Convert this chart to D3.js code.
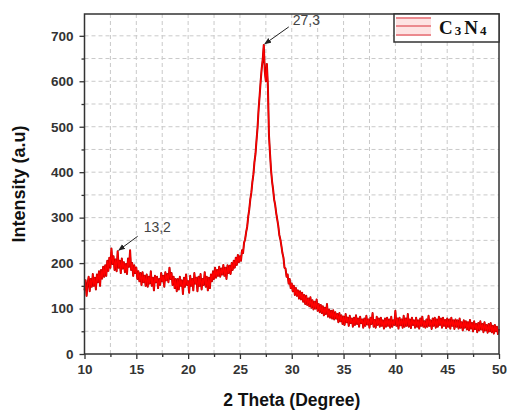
<!DOCTYPE html>
<html>
<head>
<meta charset="utf-8">
<script src="https://cdn.jsdelivr.net/npm/d3@7"></script>
<style>
  html, body { margin: 0; padding: 0; background: #fff; }
  #chart { width: 507px; height: 410px; }
  text { font-family: Arial, "Liberation Sans", sans-serif; }
</style>
</head>
<body>
<div id="chart"></div>
<script>
// XRD pattern of C3N4, intensity vs 2 theta
const THETA_START = 10;
const THETA_STEP = 0.1;

// intensity, one row per degree (10.0 .. 50.0)
const intensity = [
  140, 162, 128, 155, 170, 138, 165, 148, 176, 150,
  168, 142, 175, 158, 182, 150, 185, 166, 192, 170,
  195, 172, 205, 183, 212, 190, 232, 198, 215, 185,
  208, 182, 226, 190, 205, 178, 210, 188, 202, 180,
  198, 176, 210, 192, 228, 185, 200, 172, 195, 178,
  190, 165, 182, 160, 178, 152, 180, 158, 172, 150,
  175, 148, 170, 155, 182, 150, 168, 140, 172, 158,
  170, 145, 165, 152, 178, 160, 172, 148, 180, 162,
  176, 158, 190, 165, 178, 152, 170, 145, 165, 138,
  165, 142, 170, 150, 162, 132, 168, 148, 175, 152,
  160, 135, 172, 150, 165, 140, 178, 155, 168, 138,
  170, 150, 176, 142, 165, 152, 180, 148, 170, 140,
  168, 145, 175, 160, 182, 165, 190, 168, 185, 172,
  192, 170, 188, 175, 196, 172, 190, 165, 195, 178,
  194, 176, 200, 185, 205, 190, 212, 196, 218, 202,
  215, 205, 228, 222, 245, 252, 268, 280, 302, 318,
  340, 355, 378, 395, 422, 440, 470, 498, 538, 568,
  600, 628, 648, 680, 622, 600, 638, 588, 482, 442,
  405, 380, 362, 340, 328, 310, 296, 282, 262, 252,
  238, 222, 212, 190, 188, 170, 175, 155, 165, 145,
  155, 138, 150, 130, 145, 128, 140, 122, 138, 120,
  135, 115, 130, 110, 128, 108, 122, 105, 125, 102,
  118, 98, 115, 100, 120, 95, 110, 92, 108, 90,
  105, 85, 102, 88, 110, 82, 98, 80, 95, 78,
  96, 76, 92, 78, 88, 70, 90, 72, 85, 66,
  82, 64, 88, 70, 80, 62, 84, 68, 78, 60,
  80, 64, 85, 66, 78, 60, 82, 68, 76, 58,
  78, 62, 84, 65, 76, 58, 80, 66, 90, 60,
  75, 58, 82, 64, 78, 60, 80, 62, 74, 56,
  78, 60, 80, 62, 76, 58, 82, 60, 74, 64,
  95, 62, 78, 56, 80, 63, 76, 58, 84, 60,
  78, 62, 88, 60, 76, 57, 80, 64, 74, 58,
  80, 60, 74, 56, 78, 62, 82, 60, 72, 58,
  76, 60, 84, 62, 74, 55, 78, 62, 80, 58,
  76, 60, 82, 64, 78, 58, 80, 62, 75, 57,
  78, 60, 76, 56, 80, 62, 74, 55, 76, 60,
  74, 56, 78, 58, 70, 52, 74, 58, 72, 54,
  70, 52, 75, 56, 68, 50, 72, 55, 66, 48,
  68, 52, 72, 54, 66, 48, 70, 52, 64, 47,
  66, 50, 68, 48, 62, 45, 64, 50, 60, 44,
  55
];

const X_TICKS = [10, 15, 20, 25, 30, 35, 40, 45, 50];
const Y_TICKS = [0, 100, 200, 300, 400, 500, 600, 700];
const X_DOMAIN = [10, 50];
const Y_DOMAIN = [0, 748];

const PEAKS = [
  { theta: 27.3, value: 680, label: "27,3" },
  { theta: 13.2, value: 226, label: "13,2" },
];

const SERIES_NAME = "C3N4";

(function () {
  const width = 507, height = 410;
  const margin = { top: 14, right: 8, bottom: 56, left: 84.5 };
  const innerWidth = width - margin.left - margin.right;
  const innerHeight = height - margin.top - margin.bottom;

  const data = intensity.map((v, i) => ({ theta: THETA_START + i * THETA_STEP, value: v }));

  const svg = d3.select("#chart").append("svg").attr("width", width).attr("height", height);
  const g = svg.append("g").attr("transform", `translate(${margin.left},${margin.top})`);

  const x = d3.scaleLinear().domain(X_DOMAIN).range([0, innerWidth]);
  const y = d3.scaleLinear().domain(Y_DOMAIN).range([innerHeight, 0]);

  // dashed grid every 2.5 deg and every 50 counts
  const xGrid = d3.range(12.5, 50, 2.5);
  const yGrid = d3.range(50, 748, 50);
  g.append("g")
    .selectAll("line")
    .data(xGrid)
    .join("line")
    .attr("x1", (d) => x(d)).attr("x2", (d) => x(d))
    .attr("y1", 0).attr("y2", innerHeight)
    .attr("stroke", "#c9c9c9").attr("stroke-dasharray", "4,3");
  g.append("g")
    .selectAll("line")
    .data(yGrid)
    .join("line")
    .attr("x1", 0).attr("x2", innerWidth)
    .attr("y1", (d) => y(d)).attr("y2", (d) => y(d))
    .attr("stroke", "#c9c9c9").attr("stroke-dasharray", "4,3");

  // curve: dark red under-stroke + bright red on top gives the thick noisy band
  const line = d3.line().x((d) => x(d.theta)).y((d) => y(d.value));
  g.append("path")
    .datum(data)
    .attr("fill", "none")
    .attr("stroke", "#b00000")
    .attr("stroke-width", 2)
    .attr("stroke-linejoin", "round")
    .attr("d", line);
  g.append("path")
    .datum(data)
    .attr("fill", "none")
    .attr("stroke", "#ff0000")
    .attr("stroke-width", 1.2)
    .attr("stroke-linejoin", "round")
    .attr("d", line);

  // frame
  g.append("rect")
    .attr("width", innerWidth).attr("height", innerHeight)
    .attr("fill", "none").attr("stroke", "#333").attr("stroke-width", 1.5);

  // axes
  const xAxis = g.append("g")
    .attr("transform", `translate(0,${innerHeight})`)
    .call(d3.axisBottom(x).tickValues(X_TICKS).tickSize(5).tickPadding(5).tickFormat(d3.format("d")));
  const xMinor = g.append("g")
    .attr("transform", `translate(0,${innerHeight})`)
    .call(d3.axisBottom(x).tickValues(d3.range(12.5, 50, 5)).tickSize(3).tickFormat(""));
  const yAxis = g.append("g")
    .call(d3.axisLeft(y).tickValues(Y_TICKS).tickSize(5).tickPadding(6).tickFormat(d3.format("d")));
  const yMinor = g.append("g")
    .call(d3.axisLeft(y).tickValues(d3.range(50, 748, 100)).tickSize(3).tickFormat(""));

  [xAxis, xMinor, yAxis, yMinor].forEach((a) => {
    a.select(".domain").remove();
    a.selectAll("line").attr("stroke", "#333").attr("stroke-width", 1.3);
    a.selectAll("text")
      .attr("fill", "#333")
      .style("font-size", "13.5px")
      .style("font-weight", "bold");
  });

  // axis titles
  svg.append("text")
    .attr("x", margin.left + innerWidth / 2)
    .attr("y", 406)
    .attr("text-anchor", "middle")
    .attr("fill", "#111")
    .style("font-size", "17.5px")
    .style("font-weight", "bold")
    .text("2 Theta (Degree)");
  svg.append("text")
    .attr("transform", `translate(25,${margin.top + innerHeight / 2}) rotate(-90)`)
    .attr("text-anchor", "middle")
    .attr("fill", "#111")
    .style("font-size", "18px")
    .style("font-weight", "bold")
    .text("Intensity (a.u)");

  // peak labels with arrows
  const defs = svg.append("defs");
  defs.append("marker")
    .attr("id", "arrow")
    .attr("viewBox", "0 0 10 10")
    .attr("refX", 9).attr("refY", 5)
    .attr("markerWidth", 7).attr("markerHeight", 7)
    .attr("orient", "auto")
    .append("path")
    .attr("d", "M0,1 L10,5 L0,9 z")
    .attr("fill", "#222");

  const offsets = [
    { dx: 25, dy: -18, tx: 29, ty: -20 },
    { dx: 20, dy: -15, tx: 26, ty: -19 },
  ];
  PEAKS.forEach((p, i) => {
    const px = x(p.theta), py = y(p.value);
    const o = offsets[i];
    g.append("line")
      .attr("x1", px + o.dx).attr("y1", py + o.dy)
      .attr("x2", px + 1).attr("y2", py - 1)
      .attr("stroke", "#222").attr("stroke-width", 1)
      .attr("marker-end", "url(#arrow)");
    g.append("text")
      .attr("x", px + o.tx).attr("y", py + o.ty)
      .attr("fill", "#444")
      .style("font-size", "14px")
      .text(p.label);
  });

  // legend
  const lg = g.append("g").attr("transform", `translate(${innerWidth - 105},0)`);
  lg.append("rect")
    .attr("width", 105).attr("height", 28)
    .attr("fill", "#fff").attr("stroke", "#333").attr("stroke-width", 1.5);
  lg.append("rect")
    .attr("x", 2).attr("y", 3).attr("width", 35).attr("height", 19)
    .attr("fill", "#fde3e3");
  [4, 12, 21].forEach((ly) => {
    lg.append("line")
      .attr("x1", 2).attr("x2", 37).attr("y1", ly).attr("y2", ly)
      .attr("stroke", "#d9303a").attr("stroke-width", 1);
  });
  const lt = lg.append("text")
    .attr("x", 45).attr("y", 20)
    .attr("fill", "#111")
    .style("font-family", "'Liberation Serif', 'Times New Roman', serif")
    .style("font-weight", "bold")
    .style("font-size", "19px");
  lt.append("tspan").text(SERIES_NAME[0]);
  lt.append("tspan").style("font-size", "13px").attr("dx", 2).attr("dy", 1).text(SERIES_NAME[1]);
  lt.append("tspan").attr("dx", 3).attr("dy", -1).text(SERIES_NAME[2]);
  lt.append("tspan").style("font-size", "13px").attr("dx", 2).attr("dy", 1).text(SERIES_NAME[3]);
})();
</script>
</body>
</html>
